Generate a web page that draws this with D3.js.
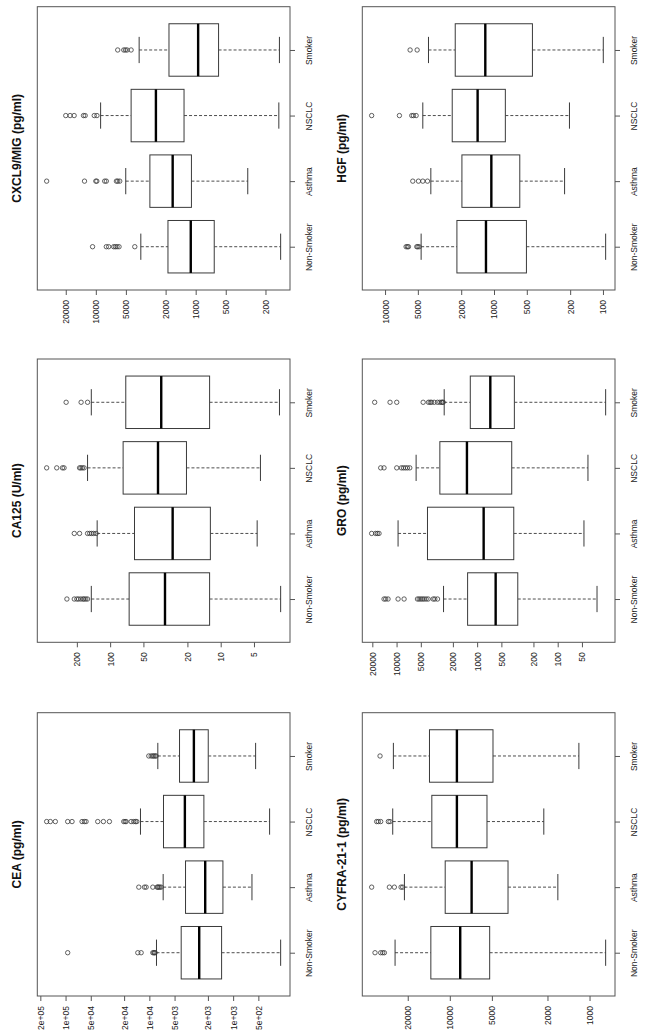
<!DOCTYPE html>
<html>
<head>
<meta charset="utf-8">
<script src="https://cdn.jsdelivr.net/npm/d3@7"></script>
<style>
  html, body { margin: 0; padding: 0; background: #fff; }
  svg { display: block; }
  text { font-family: "Liberation Sans", Arial, Helvetica, sans-serif; fill: #222; }
</style>
</head>
<body>
<svg id="chart" width="646" height="1036"></svg>
<script>
// ---------- DATA ----------
const categories = ["Non-Smoker", "Asthma", "NSCLC", "Smoker"];

// stats per category: [lower whisker, Q1, median, Q3, upper whisker]
const cxcl9Stats = [
  [141, 652, 1120, 1895, 3543],
  [301, 1103, 1700, 2875, 5016],
  [147, 1308, 2502, 4432, 8955],
  [145, 590, 945, 1851, 3682]
];
const cxcl9Outliers = [
  [10780, 7852, 7440, 6625, 6375, 6132, 5855, 4072],
  [31070, 12980, 10000, 9772, 8153, 7847, 6221, 6032, 5760],
  [20000, 18090, 16490, 13280, 12780, 10370, 9748],
  [6037, 5254, 5054, 4863, 4432]
];
const cxcl9Ticks = [200, 500, 1000, 2000, 5000, 10000, 20000];
const cxcl9TickLabels = ["200", "500", "1000", "2000", "5000", "10000", "20000"];

const ca125Stats = [
  [2.87, 12.6, 31.9, 67.3, 148],
  [4.68, 12.4, 27.2, 60.2, 131],
  [4.37, 20.4, 36.9, 76.3, 160],
  [2.94, 12.6, 34.5, 72.2, 148]
];
const ca125Outliers = [
  [246, 211, 200, 193, 184, 176, 172, 166, 160],
  [211, 189, 160, 153, 147, 141, 134],
  [375, 304, 270, 261, 189, 184, 178, 172],
  [250, 183, 160]
];
const ca125Ticks = [5, 10, 20, 50, 100, 200];
const ca125TickLabels = ["5", "10", "20", "50", "100", "200"];

const ceaStats = [
  [271, 1373, 2540, 4168, 8215],
  [596, 1324, 2154, 3700, 6841],
  [367, 2234, 3768, 6778, 12760],
  [539, 1982, 2941, 4363, 7922]
];
const ceaOutliers = [
  [94300, 13730, 12530, 9091, 8843, 8682, 8524],
  [13360, 11440, 10920, 9091, 8069, 7922, 7708, 7500, 7228],
  [168100, 152000, 132400, 94300, 83700, 63560, 59620, 56930, 41290, 35340, 29960,
   20200, 19460, 18930, 16500, 15340, 14650, 14120],
  [10150, 9517, 9091, 8843, 8524, 8300]
];
const ceaTicks = [500, 1000, 2000, 5000, 10000, 20000, 50000, 100000, 200000];
const ceaTickLabels = ["5e+02", "1e+03", "2e+03", "5e+03", "1e+04", "2e+04", "5e+04", "1e+05", "2e+05"];

const hgfStats = [
  [94.5, 504, 1185, 2190, 4665],
  [225, 580, 1058, 1970, 3800],
  [203, 787, 1414, 2418, 4502],
  [99.3, 444, 1202, 2269, 3993]
];
const hgfOutliers = [
  [6408, 6229, 6099, 5112, 5004, 4865],
  [5565, 4935, 4502, 4078],
  [13270, 7382, 5684, 5487, 5185],
  [5889, 5075]
];
const hgfTicks = [100, 200, 500, 1000, 2000, 5000, 10000];
const hgfTickLabels = ["100", "200", "500", "1000", "2000", "5000", "10000"];

const groStats = [
  [32.5, 313, 589, 1313, 2612],
  [47.2, 351, 830, 4133, 9579],
  [42.1, 372, 1338, 2902, 5719],
  [25.4, 345, 686, 1216, 2563]
];
const groOutliers = [
  [14310, 13640, 12760, 9579, 8065, 5504, 5248, 5004, 4770, 4547, 4294, 4055, 3513, 3349, 3102],
  [20380, 18170, 17320, 16510],
  [15740, 14310, 9952, 8707, 8222, 7762, 7330, 6856],
  [18700, 12050, 9952, 4678, 4015, 3828, 3684, 3414, 3102, 2902, 2767, 2689, 2640]
];
const groTicks = [50, 100, 200, 500, 1000, 2000, 5000, 10000, 20000];
const groTickLabels = ["50", "100", "200", "500", "1000", "2000", "5000", "10000", "20000"];

const cyfraStats = [
  [767, 5185, 8423, 13670, 24650],
  [1686, 3832, 6982, 10790, 21130],
  [2125, 5420, 8899, 13450, 25620],
  [1192, 4909, 8899, 13980, 25340]
];
const cyfraOutliers = [
  [34300, 31230, 30220, 29400],
  [36250, 27070, 24930, 22330, 21720],
  [33380, 32480, 31230, 27530, 26780],
  [31580]
];
const cyfraTicks = [1000, 2000, 5000, 10000, 20000];
const cyfraTickLabels = ["1000", "2000", "5000", "10000", "20000"];

// ---------- LAYOUT ----------
const panels = [
  { title: "CXCL9/MIG (pg/ml)", stats: cxcl9Stats, out: cxcl9Outliers, ticks: cxcl9Ticks, labels: cxcl9TickLabels, col: 0, row: 0 },
  { title: "CA125 (U/ml)", stats: ca125Stats, out: ca125Outliers, ticks: ca125Ticks, labels: ca125TickLabels, col: 0, row: 1 },
  { title: "CEA (pg/ml)", stats: ceaStats, out: ceaOutliers, ticks: ceaTicks, labels: ceaTickLabels, col: 0, row: 2 },
  { title: "HGF (pg/ml)", stats: hgfStats, out: hgfOutliers, ticks: hgfTicks, labels: hgfTickLabels, col: 1, row: 0 },
  { title: "GRO (pg/ml)", stats: groStats, out: groOutliers, ticks: groTicks, labels: groTickLabels, col: 1, row: 1 },
  { title: "CYFRA-21-1 (pg/ml)", stats: cyfraStats, out: cyfraOutliers, ticks: cyfraTicks, labels: cyfraTickLabels, col: 1, row: 2 }
];

const colX = [37.3, 362.3];
const rowY = [6.7, 359, 712.7];
const PW = 252.7, PH = 283.3;
const LINE = "#3a3a3a";

const svg = d3.select("#chart");

panels.forEach(p => {
  const x0 = colX[p.col], y0 = rowY[p.row];
  const g = svg.append("g");

  const all = p.stats.flat().concat(p.out.flat());
  const lo = Math.log10(d3.min(all)), hi = Math.log10(d3.max(all));
  const ext = (hi - lo) * 0.04;
  const x = d3.scaleLog().domain([Math.pow(10, hi + ext), Math.pow(10, lo - ext)]).range([x0, x0 + PW]);
  const n = categories.length;
  const padC = n * 0.04 / 1; // R style 4% of (n) range
  const y = d3.scaleLinear().domain([0.5 - n * 0.04, n + 0.5 + n * 0.04]).range([y0 + PH, y0]);

  // frame
  g.append("rect").attr("x", x0).attr("y", y0).attr("width", PW).attr("height", PH)
    .attr("fill", "none").attr("stroke", "#555").attr("stroke-width", 1);

  // value axis (bottom)
  const ax = d3.axisBottom(x).tickValues(p.ticks)
    .tickFormat((d, i) => p.labels[p.ticks.indexOf(d)])
    .tickSize(5).tickSizeOuter(0);
  const axG = g.append("g").attr("transform", `translate(0,${y0 + PH})`).call(ax);
  axG.select(".domain").remove();
  axG.selectAll(".tick line").attr("stroke", "#555");
  axG.selectAll(".tick text")
    .attr("x", 0).attr("y", 0).attr("dy", "0.35em")
    .attr("transform", "translate(0,10) rotate(-90)")
    .attr("text-anchor", "end")
    .style("font-size", "8.5px").style("fill", "#222")
    .style("font-family", '"Liberation Sans", Arial, sans-serif');

  // category axis (right)
  const ay = d3.axisRight(y).tickValues(d3.range(1, n + 1))
    .tickFormat(i => categories[i - 1]).tickSize(5).tickSizeOuter(0);
  const ayG = g.append("g").attr("transform", `translate(${x0 + PW},0)`).call(ay);
  ayG.select(".domain").remove();
  ayG.selectAll(".tick line").attr("stroke", "#555");
  ayG.selectAll(".tick text")
    .attr("x", 0).attr("y", 0).attr("dy", 0)
    .attr("transform", "translate(22,0) rotate(-90)")
    .attr("text-anchor", "middle")
    .style("font-size", "8.5px").style("fill", "#222")
    .style("font-family", '"Liberation Sans", Arial, sans-serif');

  // title
  g.append("text")
    .attr("transform", `translate(${x0 - 16},${y0 + PH / 2}) rotate(-90)`)
    .attr("text-anchor", "middle")
    .style("font-size", "12px").style("font-weight", "bold").style("fill", "#111")
    .text(p.title);

  // boxes
  p.stats.forEach((s, i) => {
    const c = i + 1;
    const [lw, q1, med, q3, uw] = s;
    const cy = y(c);
    const bTop = y(c + 0.4), bBot = y(c - 0.4);
    const sTop = y(c + 0.2), sBot = y(c - 0.2);
    // whiskers
    g.append("line").attr("x1", x(uw)).attr("x2", x(q3)).attr("y1", cy).attr("y2", cy)
      .attr("stroke", LINE).attr("stroke-width", 0.9).attr("stroke-dasharray", "3,2");
    g.append("line").attr("x1", x(q1)).attr("x2", x(lw)).attr("y1", cy).attr("y2", cy)
      .attr("stroke", LINE).attr("stroke-width", 0.9).attr("stroke-dasharray", "3,2");
    // staples
    [uw, lw].forEach(v => {
      g.append("line").attr("x1", x(v)).attr("x2", x(v)).attr("y1", sTop).attr("y2", sBot)
        .attr("stroke", LINE).attr("stroke-width", 1);
    });
    // box
    g.append("rect").attr("x", x(q3)).attr("y", bTop)
      .attr("width", x(q1) - x(q3)).attr("height", bBot - bTop)
      .attr("fill", "#fff").attr("stroke", LINE).attr("stroke-width", 1);
    // median
    g.append("line").attr("x1", x(med)).attr("x2", x(med)).attr("y1", bTop).attr("y2", bBot)
      .attr("stroke", "#000").attr("stroke-width", 2.4);
    // outliers
    g.selectAll(null).data(p.out[i]).enter().append("circle")
      .attr("cx", d => x(d)).attr("cy", cy).attr("r", 2.2)
      .attr("fill", "none").attr("stroke", LINE).attr("stroke-width", 0.8);
  });
});
</script>
</body>
</html>
